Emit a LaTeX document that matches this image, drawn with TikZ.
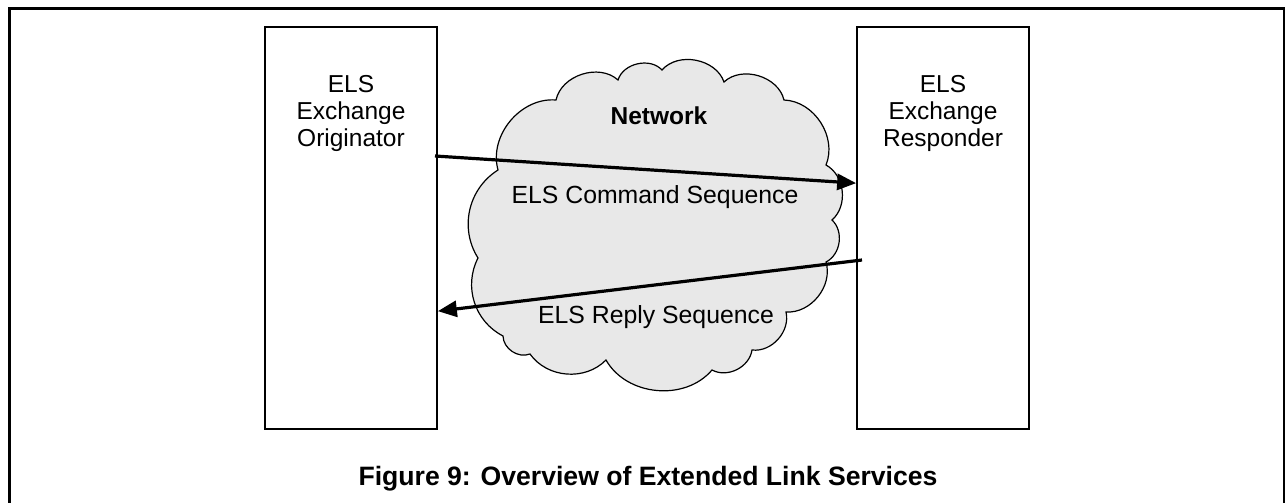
\documentclass[tikz,border=0pt]{standalone}
\usepackage{fontspec}
\setmainfont{Liberation Sans}
\usetikzlibrary{arrows.meta,calc}
\definecolor{cloudgray}{HTML}{E8E8E8}
\tikzset{
  frameline/.style={line width=2.6pt},
  party/.style={draw, line width=1.7pt, minimum width=172pt, minimum height=402pt, inner sep=0pt},
  partylabel/.style={align=center, font=\fontsize{24.5}{27}\selectfont, anchor=north, inner sep=0pt},
  msg/.style={line width=3.2pt, -{Triangle[length=19pt,width=16pt]}},
  cloudline/.style={draw=black, line width=1.2pt, fill=cloudgray},
  lbl/.style={font=\fontsize{24.8}{27}\selectfont, anchor=base, inner sep=0pt},
  boldlbl/.style={font=\bfseries\fontsize{24.5}{27}\selectfont, anchor=base, inner sep=0pt},
  captionlbl/.style={font=\bfseries\fontsize{26.6}{30}\selectfont, anchor=base, inner sep=0pt},
}
\begin{document}
\begin{tikzpicture}[x=1pt,y=-1pt]
\useasboundingbox (0,0) rectangle (1285,503);

% open frame around the figure
\draw[frameline] (9.5,520) -- (9.5,8.5) -- (1283.8,8.5) -- (1283.8,520);

% the two exchange parties
\node[party] (orig) at (351,228) {};
\node[party] (resp) at (943,228) {};
\node[partylabel] (origtxt) at (351,75) {ELS\\Exchange\\Originator};
\node[partylabel] (resptxt) at (943,75) {ELS\\Exchange\\Responder};

% network cloud
\path[cloudline] (498,170)
  to[bend left=55] (556,100)
  to[bend left=60] (618,80)
  to[bend left=60] (662,70)
  to[bend left=60] (724,82)
  to[bend left=60] (784,100)
  to[bend left=55] (826,165)
  to[bend left=55] (832,220)
  to[bend left=55] (826,262)
  to[bend left=55] (786,312)
  to[bend left=55] (752,350)
  to[bend left=55] (712,370)
  to[bend left=55] (606,360)
  to[bend left=50] (530,354)
  to[bend left=55] (503,336)
  to[bend left=45] (478,258)
  to[bend left=45] (498,170) -- cycle;
\node[boldlbl] (net) at (659,124) {Network};

% command and reply sequences
\coordinate (cmdfrom) at (435,156);
\coordinate (cmdto) at ($(resp.north west)+(0,157)$);
\coordinate (repfrom) at (862,260);
\coordinate (repto) at ($(orig.north east)+(0,285)$);
\draw[msg] (cmdfrom) -- (cmdto);
\draw[msg] (repfrom) -- (repto);
\node[lbl] (cmdlbl) at (655,203) {ELS Command Sequence};
\node[lbl] (replbl) at (656,323) {ELS Reply Sequence};

% caption
\node[captionlbl] (caption) at (648,485) {Figure 9: Overview of Extended Link Services};
\end{tikzpicture}
\end{document}
